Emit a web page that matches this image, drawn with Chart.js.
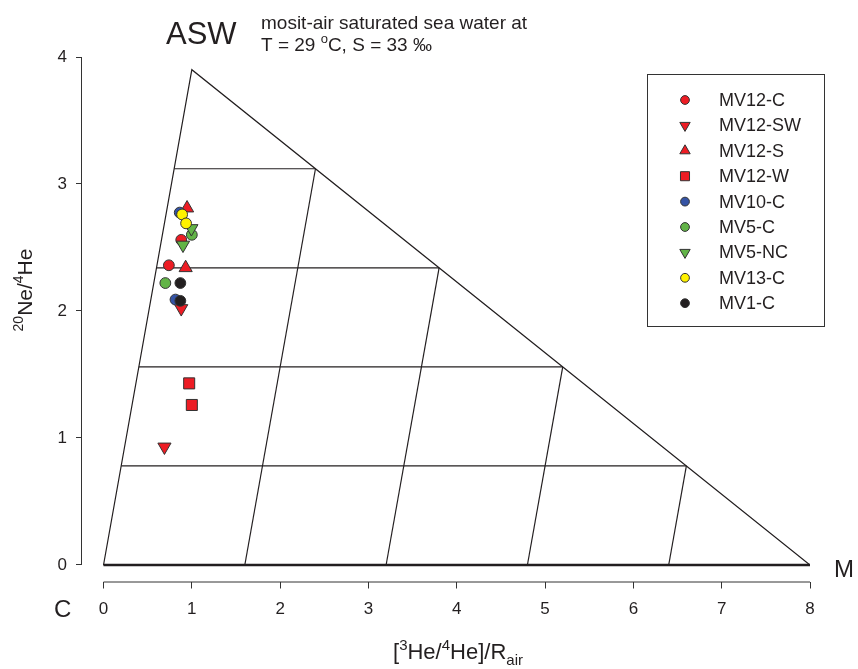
<!DOCTYPE html>
<html>
<head>
<meta charset="utf-8">
<script src="https://cdn.jsdelivr.net/npm/chart.js@4.4.1/dist/chart.umd.min.js"></script>
<style>
  html, body { margin: 0; padding: 0; background: #fff; }
  #wrap { width: 858px; height: 669px; }
</style>
</head>
<body>
<div id="wrap"><canvas id="chart" width="858" height="669"></canvas></div>
<script>
const FONT = '"Liberation Sans", Arial, sans-serif';
const INK = "#231F20";

// mixing triangle C - M - ASW
const triangleX = [0, 8, 1, 0];
const triangleY = [0, 0, 3.9, 0];
const baseX = [0, 8];
const baseY = [0, 0];

// horizontal grid lines inside the triangle
const levelY = [0.78, 1.56, 2.34, 3.12];
const levelLeftX = [0.2, 0.4, 0.6, 0.8];
const levelRightX = [6.6, 5.2, 3.8, 2.4];

// lines parallel to the C-ASW edge
const mixBaseX = [1.6, 3.2, 4.8, 6.4];
const mixTopX = [2.4, 3.8, 5.2, 6.6];
const mixTopY = [3.12, 2.34, 1.56, 0.78];

const xTicks = [0, 1, 2, 3, 4, 5, 6, 7, 8];
const yTicks = [0, 1, 2, 3, 4];

// samples
const seriesNames = ["MV12-C", "MV12-SW", "MV12-S", "MV12-W", "MV10-C", "MV5-C", "MV5-NC", "MV13-C", "MV1-C"];
const seriesX = [
  [0.88, 0.74],
  [0.88, 0.69],
  [0.946, 0.93],
  [0.97, 1.0],
  [0.863, 0.815],
  [1.0, 0.70],
  [0.995, 0.90],
  [0.89, 0.935],
  [0.87, 0.87],
];
const seriesY = [
  [2.56, 2.36],
  [2.02, 0.93],
  [2.81, 2.34],
  [1.43, 1.26],
  [2.775, 2.09],
  [2.60, 2.22],
  [2.65, 2.52],
  [2.76, 2.69],
  [2.22, 2.08],
];
const seriesColors = ["#ED1C24", "#ED1C24", "#ED1C24", "#ED1C24", "#3553A4", "#62B447", "#62B447", "#FFF200", "#231F20"];
const seriesShapes = ["circle", "triangle", "triangle", "rect", "circle", "circle", "triangle", "circle", "circle"];
const seriesRotation = [0, 180, 0, 0, 0, 0, 180, 0, 0];

function pts(xs, ys) {
  return xs.map((x, i) => ({ x, y: ys[i] }));
}

function plotRadius(shape) {
  if (shape === "rect") return 7.8;
  if (shape === "triangle") return 7.6;
  return 5.4;
}

function legendRadius(shape) {
  if (shape === "rect") return 6.4;
  if (shape === "triangle") return 6;
  return 4.4;
}

function lineSet(data, width) {
  return {
    type: "scatter",
    data,
    showLine: true,
    borderColor: INK,
    borderWidth: width,
    pointRadius: 0,
    fill: false,
    order: 100,
  };
}

const datasets = [];
datasets.push(lineSet(pts(triangleX, triangleY), 1.2));
datasets.push(lineSet(pts(baseX, baseY), 2.4));
levelY.forEach((y, i) => {
  datasets.push(lineSet(pts([levelLeftX[i], levelRightX[i]], [y, y]), 1.2));
});
mixBaseX.forEach((x, i) => {
  datasets.push(lineSet(pts([x, mixTopX[i]], [0, mixTopY[i]]), 1.2));
});
seriesNames.forEach((name, i) => {
  datasets.push({
    type: "scatter",
    label: name,
    data: pts(seriesX[i], seriesY[i]),
    pointStyle: seriesShapes[i],
    rotation: seriesRotation[i],
    pointRadius: plotRadius(seriesShapes[i]),
    pointHoverRadius: plotRadius(seriesShapes[i]),
    backgroundColor: seriesColors[i],
    borderColor: "#333",
    borderWidth: 1,
    order: 50 - i,
  });
});

function drawRich(ctx, parts, x, y, size, align) {
  const small = Math.round(size * 0.68);
  let total = 0;
  parts.forEach((p) => {
    ctx.font = `${p.s ? small : size}px ${FONT}`;
    p.w = ctx.measureText(p.t).width;
    total += p.w;
  });
  let cx = align === "center" ? x - total / 2 : x;
  ctx.textAlign = "left";
  ctx.textBaseline = "alphabetic";
  parts.forEach((p) => {
    ctx.font = `${p.s ? small : size}px ${FONT}`;
    let dy = 0;
    if (p.s === "sup") dy = -size * 0.42;
    if (p.s === "sub") dy = size * 0.25;
    ctx.fillText(p.t, cx, y + dy);
    cx += p.w;
  });
}

function drawMarker(ctx, shape, rotation, radius, color, x, y) {
  ctx.save();
  ctx.fillStyle = color;
  ctx.strokeStyle = "#333";
  ctx.lineWidth = 1;
  Chart.helpers.drawPoint(ctx, { pointStyle: shape, rotation, radius, borderWidth: 1 }, x, y);
  ctx.restore();
}

const decor = {
  id: "decor",
  beforeDatasetsDraw(chart) {
    const { ctx, chartArea, scales } = chart;
    ctx.save();
    ctx.strokeStyle = "#333";
    ctx.lineWidth = 1;
    ctx.beginPath();
    ctx.moveTo(chartArea.left + 0.5, scales.y.getPixelForValue(0));
    ctx.lineTo(chartArea.left + 0.5, scales.y.getPixelForValue(4));
    ctx.moveTo(scales.x.getPixelForValue(0), chartArea.bottom + 0.5);
    ctx.lineTo(scales.x.getPixelForValue(8), chartArea.bottom + 0.5);
    ctx.stroke();
    ctx.restore();
  },
  afterDraw(chart) {
    const { ctx, scales } = chart;
    ctx.save();
    ctx.fillStyle = INK;

    // axis titles
    drawRich(ctx, [{ t: "[" }, { t: "3", s: "sup" }, { t: "He/" }, { t: "4", s: "sup" }, { t: "He]/R" }, { t: "air", s: "sub" }], 458, 659, 22, "center");
    ctx.save();
    ctx.translate(32, 290);
    ctx.rotate(-Math.PI / 2);
    drawRich(ctx, [{ t: "20", s: "sup" }, { t: "Ne/" }, { t: "4", s: "sup" }, { t: "He" }], 0, 0, 21, "center");
    ctx.restore();

    // end-member labels
    ctx.font = `31px ${FONT}`;
    ctx.textBaseline = "alphabetic";
    ctx.textAlign = "left";
    ctx.fillText("ASW", 166, 44);
    ctx.font = `24px ${FONT}`;
    ctx.fillText("M", scales.x.getPixelForValue(8) + 24, scales.y.getPixelForValue(0) + 12);
    ctx.fillText("C", 54, 617);

    ctx.font = `19px ${FONT}`;
    ctx.fillText("mosit-air saturated sea water at", 261, 29);
    drawRich(ctx, [{ t: "T = 29 " }, { t: "o", s: "sup" }, { t: "C, S = 33 ‰" }], 261, 51, 19, "left");

    // legend
    ctx.strokeStyle = "#333";
    ctx.lineWidth = 1;
    ctx.strokeRect(647.5, 74.5, 177, 252);
    seriesNames.forEach((name, i) => {
      const y = 100 + i * 25.4;
      drawMarker(ctx, seriesShapes[i], seriesRotation[i], legendRadius(seriesShapes[i]), seriesColors[i], 685, y);
      ctx.fillStyle = INK;
      ctx.font = `18px ${FONT}`;
      ctx.textAlign = "left";
      ctx.textBaseline = "middle";
      ctx.fillText(name, 719, y + 1);
    });
    ctx.restore();
  },
};

new Chart(document.getElementById("chart"), {
  type: "scatter",
  data: { datasets },
  options: {
    responsive: false,
    animation: false,
    events: [],
    layout: { padding: { left: 0, right: 48, top: 57, bottom: 0 } },
    plugins: { legend: { display: false }, tooltip: { enabled: false } },
    scales: {
      x: {
        type: "linear",
        min: -0.255,
        max: 8,
        afterBuildTicks: (s) => { s.ticks = xTicks.map((v) => ({ value: v })); },
        afterFit: (s) => { s.height = 87.5; },
        border: { display: false },
        grid: { drawOnChartArea: false, drawTicks: true, tickLength: 7, color: "#333" },
        ticks: { color: INK, font: { family: FONT, size: 17 }, padding: 11, maxRotation: 0 },
      },
      y: {
        type: "linear",
        min: -0.13,
        max: 4,
        afterBuildTicks: (s) => { s.ticks = yTicks.map((v) => ({ value: v })); },
        afterFit: (s) => { s.width = 81; },
        border: { display: false },
        grid: { drawOnChartArea: false, drawTicks: true, tickLength: 5, color: "#333" },
        ticks: { color: INK, font: { family: FONT, size: 17 }, padding: 9 },
      },
    },
  },
  plugins: [decor],
});
</script>
</body>
</html>
